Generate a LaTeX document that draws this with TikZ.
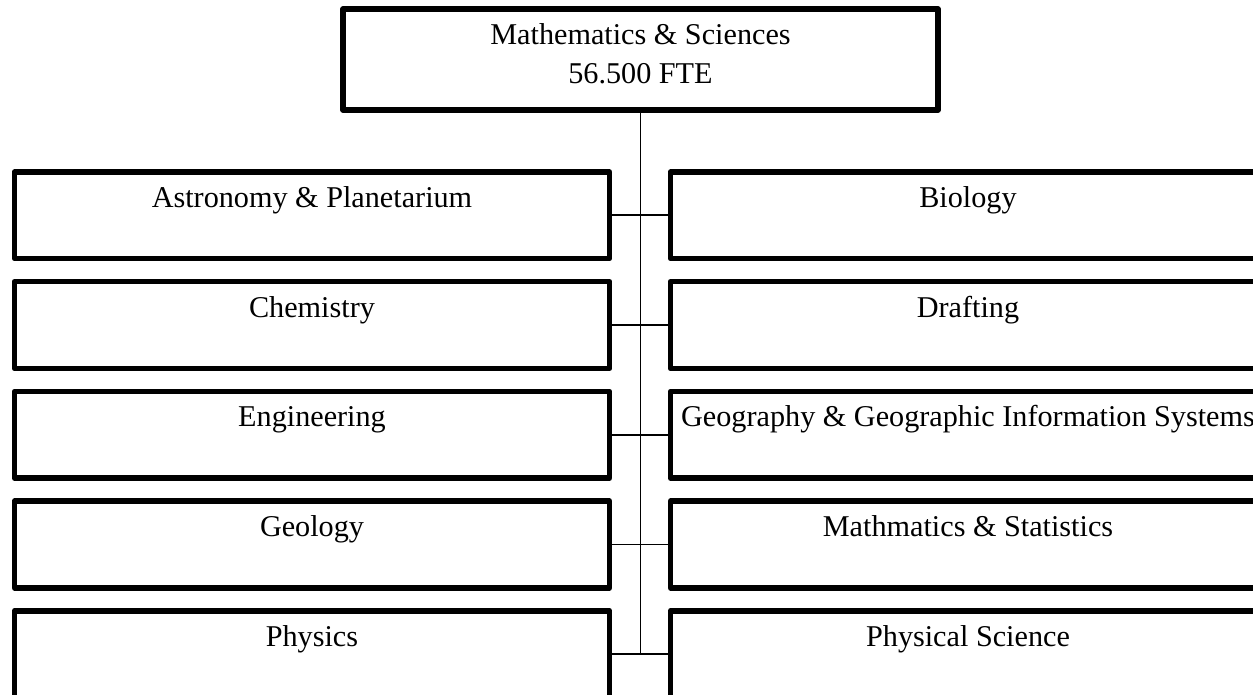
\documentclass[tikz,border=0pt]{standalone}
\usepackage{fontspec}
\setmainfont{Liberation Serif}
\begin{document}
\begin{tikzpicture}[x=1pt,y=-1pt,
  unitbox/.style={draw=black, line width=5.5pt, line join=round, rectangle,
    minimum width=595pt, minimum height=86.7pt, inner xsep=0pt, inner ysep=0pt,
    text height=35.5pt, text depth=51.2pt},
  headbox/.style={draw=black, line width=5.5pt, line join=round, rectangle,
    minimum width=595pt, minimum height=101pt, inner xsep=0pt, inner ysep=0pt,
    align=center, text height=74.5pt, text depth=26.5pt},
  link/.style={draw=black, line width=1.8pt}]
\useasboundingbox (0,0) rectangle (1253,695);
\clip (0,0) rectangle (1253,695);
\fontsize{30.2pt}{39pt}\selectfont
\node[headbox] (top) at (640.5,59.5) {Mathematics \& Sciences\\56.500 FTE};
\node[unitbox] (l1) at (312,215.35) {Astronomy \& Planetarium};
\node[unitbox] (l2) at (312,325.05) {Chemistry};
\node[unitbox] (l3) at (312,434.75) {Engineering};
\node[unitbox] (l4) at (312,544.45) {Geology};
\node[unitbox] (l5) at (312,654.15) {Physics};
\node[unitbox] (r1) at (968,215.35) {Biology};
\node[unitbox] (r2) at (968,325.05) {Drafting};
\node[unitbox] (r3) at (968,434.75) {Geography \& Geographic Information Systems};
\node[unitbox] (r4) at (968,544.45) {Mathmatics \& Statistics};
\node[unitbox] (r5) at (968,654.15) {Physical Science};
\draw[link] (top.south) -- (top.south |- l5.east);
\foreach \i in {1,...,5} {\draw[link] (l\i.east) -- (r\i.west);}
\end{tikzpicture}
\end{document}
